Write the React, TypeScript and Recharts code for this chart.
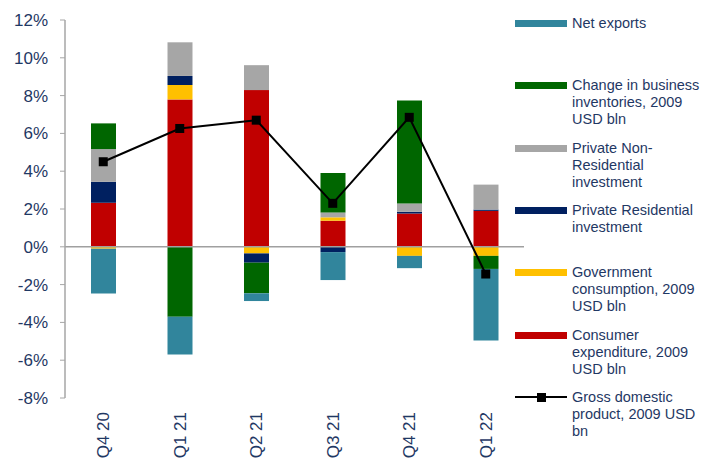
import { ComposedChart, Bar, Line, XAxis, YAxis, ReferenceLine } from "recharts";

const categories = ["Q4 20", "Q1 21", "Q2 21", "Q3 21", "Q4 21", "Q1 22"];
const consumer = [2.33, 7.8, 8.29, 1.38, 1.76, 1.9];
const government = [-0.1, 0.76, -0.35, 0.18, -0.48, -0.48];
const residential = [1.11, 0.48, -0.49, -0.28, 0.09, 0.07];
const nonResidential = [1.73, 1.78, 1.32, 0.26, 0.44, 1.32];
const inventories = [1.36, -3.7, -1.62, 2.08, 5.45, -0.69];
const netExports = [-2.37, -2.0, -0.41, -1.48, -0.65, -3.79];
const gdp = [4.5, 6.26, 6.7, 2.3, 6.85, -1.44];
const yTicks = [-8, -6, -4, -2, 0, 2, 4, 6, 8, 10, 12];

const FONT = "'Liberation Sans', Arial, sans-serif";
const TEXT = "#1F3864";

// stacking order = bottom up; legend lists them top down
const series = [
  { key: "consumer", color: "#C00000", label: ["Consumer", "expenditure, 2009", "USD bln"] },
  { key: "government", color: "#FFC000", label: ["Government", "consumption, 2009", "USD bln"] },
  { key: "residential", color: "#002060", label: ["Private Residential", "investment"] },
  { key: "nonResidential", color: "#A6A6A6", label: ["Private Non-", "Residential", "investment"] },
  { key: "inventories", color: "#006600", label: ["Change in business", "inventories, 2009", "USD bln"] },
  { key: "netExports", color: "#31859C", label: ["Net exports"] },
];

const data = categories.map((c, i) => ({
  name: c,
  consumer: consumer[i],
  government: government[i],
  residential: residential[i],
  nonResidential: nonResidential[i],
  inventories: inventories[i],
  netExports: netExports[i],
  gdp: gdp[i],
}));

const SquareDot = (props: any) => {
  const { cx, cy, index } = props;
  return <rect key={index} x={cx - 4.5} y={cy - 4.5} width={9} height={9} fill="#000" />;
};

const XTick = (props: any) => {
  const { x, y, payload } = props;
  return (
    <text x={x} y={y} dy="0.35em" transform={`rotate(-90, ${x}, ${y})`} textAnchor="end"
      fill={TEXT} fontSize={17} fontFamily={FONT}>
      {payload.value}
    </text>
  );
};

function LegendBox() {
  const items = [...series].reverse().map(s => ({ color: s.color, label: s.label, line: false }));
  items.push({ color: "#000", label: ["Gross domestic", "product, 2009 USD", "bn"], line: true });
  return (
    <div style={{ position: "absolute", left: 515, top: 0, width: 200, fontFamily: FONT, fontSize: 14.5, color: TEXT }}>
      {items.map((it, i) => (
        <div key={i} style={{ position: "absolute", top: 15 + i * 62.3, left: 0, width: 200, height: 60 }}>
          {it.line ? (
            <div style={{ position: "absolute", left: 0, top: 4, width: 52, height: 9 }}>
              <div style={{ position: "absolute", left: 0, top: 3.5, width: 52, height: 2, background: "#000" }} />
              <div style={{ position: "absolute", left: 22, top: 0, width: 9, height: 9, background: "#000" }} />
            </div>
          ) : (
            <div style={{ position: "absolute", left: 0, top: 5, width: 52, height: 7, background: it.color }} />
          )}
          <div style={{ position: "absolute", left: 57, top: 0, lineHeight: "17px", whiteSpace: "nowrap" }}>
            {it.label.map((l, j) => <div key={j}>{l}</div>)}
          </div>
        </div>
      ))}
    </div>
  );
}

export default function App() {
  return (
    <div style={{ position: "absolute", left: 0, top: 0, width: 715, height: 459, background: "#fff" }}>
      <ComposedChart width={715} height={459} data={data} stackOffset="sign"
        margin={{ top: 20, right: 191, left: 0, bottom: 0 }} barSize={25}>
        <XAxis dataKey="name" height={61} axisLine={false} tickLine={false} tickMargin={8}
          tick={<XTick />} interval={0} />
        <YAxis domain={[-8, 12]} ticks={yTicks} width={65} tickFormatter={(v: number) => `${v}%`}
          axisLine={{ stroke: "#A6A6A6", strokeWidth: 1.5 }} tickLine={{ stroke: "#A6A6A6" }} tickSize={5}
          tickMargin={12} tick={{ fill: TEXT, fontSize: 17, fontFamily: FONT }} interval={0} />
        {series.map(s => (
          <Bar key={s.key} dataKey={s.key} stackId="a" fill={s.color} isAnimationActive={false} />
        ))}
        <ReferenceLine y={0} stroke="#A0A0A0" strokeWidth={1.5} />
        <Line dataKey="gdp" stroke="#000" strokeWidth={2} dot={<SquareDot />} activeDot={false}
          isAnimationActive={false} />
      </ComposedChart>
      <LegendBox />
    </div>
  );
}
